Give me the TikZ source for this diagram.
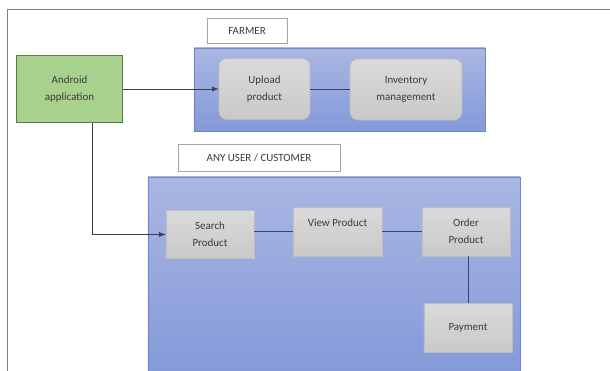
\documentclass[tikz,border=0pt]{standalone}
\usepackage{fontspec}
\setmainfont{Carlito}
\usepackage{tikz}

\definecolor{paneltop}{HTML}{AAB7E3}
\definecolor{panelbot}{HTML}{8499D9}
\definecolor{panelrim}{HTML}{7086C6}
\definecolor{boxtop}{HTML}{DADADA}
\definecolor{boxbot}{HTML}{C9C9C9}
\definecolor{boxrim}{HTML}{BDBDBD}
\definecolor{appfill}{HTML}{A9D18E}
\definecolor{apprim}{HTML}{5B7A4C}
\definecolor{inktext}{HTML}{3B3B3B}
\definecolor{linkblue}{HTML}{34466E}

\begin{document}
\begin{tikzpicture}[x=0.025cm,y=-0.025cm,
  every node/.style={font={\fontsize{7.8}{12}\selectfont},text=inktext,align=center,inner sep=0pt},
  panel/.style={draw=panelrim,line width=0.5pt,top color=paneltop,bottom color=panelbot},
  procbox/.style={draw=boxrim,line width=0.5pt,top color=boxtop,bottom color=boxbot},
  roundbox/.style={procbox,rounded corners=0.2cm},
  titlebox/.style={draw=gray!70,line width=0.6pt,fill=white},
  appbox/.style={draw=apprim,line width=0.7pt,fill=appfill},
  link/.style={draw=linkblue,line width=0.7pt},
  feed/.style={draw=black!75,line width=0.6pt,-latex}]
  \useasboundingbox (0,0) rectangle (610,370);
  % outer frame
  \draw[gray,line width=0.6pt] (7,372) -- (7,9) -- (612,9);
  % app
  \node[appbox,minimum width=2.625cm,minimum height=1.675cm] (android) at (69.5,89) {Android\\application};
  % farmer side
  \node[titlebox,minimum width=2cm,minimum height=0.625cm] (farmerlabel) at (247,30.5) {FARMER};
  \node[panel,minimum width=7.275cm,minimum height=2.075cm] (farmerpanel) at (339.5,89.5) {};
  \node[roundbox,minimum width=2.275cm,minimum height=1.525cm] (upload) at (264.5,89) {Upload\\product};
  \node[roundbox,minimum width=2.8cm,minimum height=1.525cm] (inventory) at (406,89.5) {Inventory\\management};
  % customer side
  \node[titlebox,minimum width=4.05cm,minimum height=0.675cm] (userlabel) at (259,157.5) {ANY USER / CUSTOMER};
  \node[panel,minimum width=9.3cm,minimum height=4.925cm] (userpanel) at (334,275.5) {};
  \node[procbox,minimum width=2.2cm,minimum height=1.2cm] (search) at (210,234.5) {Search\\Product};
  \node[procbox,minimum width=2.225cm,minimum height=1.225cm] (view) at (337.5,231.5) {View Product\\\mbox{}};
  \node[procbox,minimum width=2.2cm,minimum height=1.225cm] (order) at (466,231.5) {Order\\Product};
  \node[procbox,minimum width=2.2cm,minimum height=1.225cm] (payment) at (468,327.5) {Payment};
  % connectors
  \draw[feed] (android.east) -- (upload.west);
  \draw[link] (upload.east) -- (upload.east -| inventory.west);
  \draw[feed] ([xshift=0.5625cm]android.south) |- (search.west);
  \draw[link] (view.west -| search.east) -- (view.west);
  \draw[link] (view.east) -- (order.west);
  \draw[link] (payment.north) -- (payment.north |- order.south);
\end{tikzpicture}
\end{document}
